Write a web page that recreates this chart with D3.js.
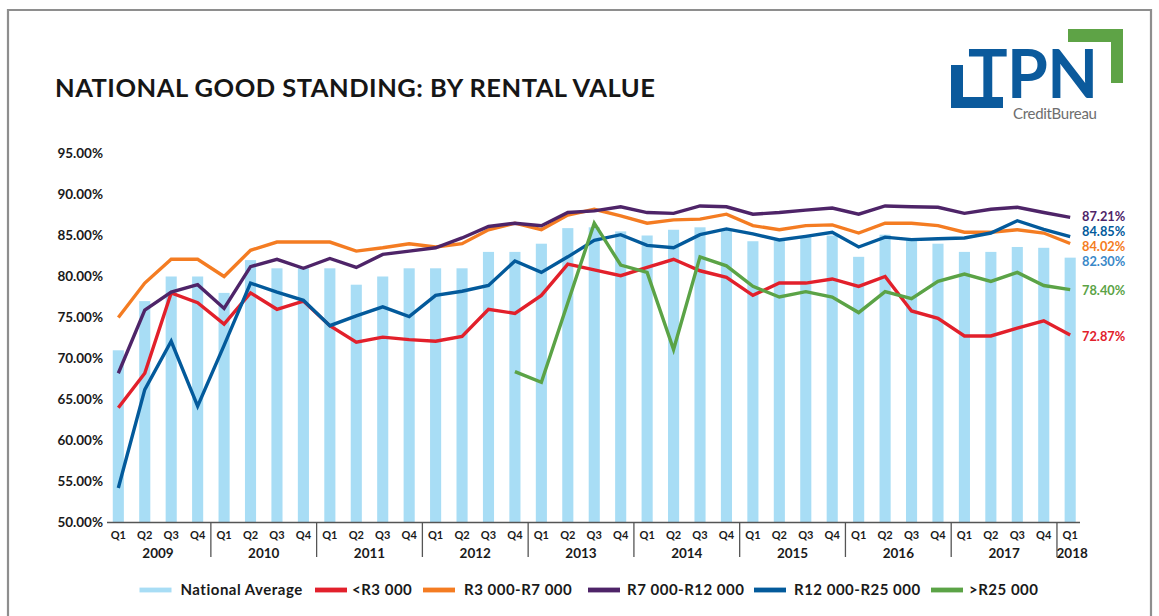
<!DOCTYPE html>
<html><head><meta charset="utf-8">
<script src="https://cdn.jsdelivr.net/npm/d3@7"></script>
<style>
html,body{margin:0;padding:0;background:#fff;}
svg{display:block;font-family:Lato,"Open Sans",sans-serif;}
</style></head>
<body>
<svg id="chart" width="1159" height="616"></svg>
<script>
// ---------- DATA ----------
const years = ["2009","2010","2011","2012","2013","2014","2015","2016","2017","2018"];
const quarters = ["Q1","Q2","Q3","Q4"];
const periods = [];
years.forEach(y => quarters.forEach(q => { if (!(y === "2018" && q !== "Q1")) periods.push(y + " " + q); }));

const nationalAverage = [71,77,80,80, 78,82,81,81, 81,79,80,81, 81,81,83,83, 84,85.9,86,85.5, 85,85.7,86,85.7, 84.3,84.4,84.9,85, 82.4,85.1,84.5,84, 83,83,83.6,83.5, 82.30];
const under3000 = [64,68.2,78,76.8, 74.2,78,76,77, 74,72,72.6,72.3, 72.1,72.7,76,75.5, 77.7,81.5,80.8,80.1, 81.1,82.1,80.7,79.9, 77.7,79.2,79.2,79.7, 78.8,80,75.8,74.9, 72.75,72.75,73.7,74.6, 72.87];
const r3000to7000 = [75,79.2,82.1,82.1, 80,83.2,84.2,84.2, 84.2,83.1,83.5,84, 83.6,84,85.7,86.5, 85.7,87.5,88.2,87.4, 86.5,86.9,87,87.6, 86.2,85.7,86.2,86.3, 85.3,86.5,86.5,86.2, 85.4,85.4,85.7,85.3, 84.02];
const r7000to12000 = [68.2,75.9,78.1,79, 76.1,81.2,82.1,81, 82.2,81.1,82.7,83.1, 83.5,84.7,86.1,86.5, 86.2,87.8,88,88.5, 87.8,87.7,88.6,88.5, 87.6,87.8,88.1,88.35, 87.6,88.6,88.5,88.44, 87.7,88.2,88.44,87.8, 87.21];
const r12000to25000 = [54.2,66.2,72.1,64.2, 71.6,79.2,78.1,77.1, 74,75.2,76.3,75.1, 77.7,78.2,78.9,81.9, 80.5,82.4,84.4,85.1, 83.8,83.5,85.1,85.8, 85.2,84.45,84.9,85.4, 83.6,84.8,84.5,84.6, 84.7,85.3,86.8,85.75, 84.85];
const over25000 = [null,null,null,null, null,null,null,null, null,null,null,null, null,null,null,68.4, 67.1,76.8,86.5,81.4, 80.5,71.1,82.4,81.3, 78.8,77.5,78.15,77.5, 75.6,78.15,77.3,79.4, 80.3,79.4,80.5,78.9, 78.40];

const seriesNames = ["National Average","<R3 000","R3 000-R7 000","R7 000-R12 000","R12 000-R25 000",">R25 000"];
const yTicks = [50,55,60,65,70,75,80,85,90,95];
const titleText = "NATIONAL GOOD STANDING: BY RENTAL VALUE";

// ---------- STYLE ----------
const colors = {
  bar: "#a8ddf5",
  under3000: "#e2202b",
  r3000to7000: "#f47c22",
  r7000to12000: "#4e2468",
  r12000to25000: "#035a9b",
  over25000: "#5ba346",
  avgLabel: "#3a88c8"
};

const svg = d3.select("#chart");
svg.append("rect").attr("x",0).attr("y",0).attr("width",1159).attr("height",616).attr("fill","#fff");
// frame
svg.append("path").attr("d","M8,640 V10 H1151 V640").attr("fill","none").attr("stroke","#8e8e8e").attr("stroke-width",2.2);

// title
svg.append("text").attr("x",55).attr("y",97).attr("fill","#161616")
  .style("font-size","25.5px").style("font-weight","700").style("letter-spacing","0.5px").text(titleText);

// logo
const logo = svg.append("g");
logo.append("rect").attr("x",951).attr("y",65).attr("width",12).attr("height",43).attr("fill","#0b5a9c");
logo.append("rect").attr("x",951).attr("y",97).attr("width",52).attr("height",11).attr("fill","#0b5a9c");
logo.append("rect").attr("x",1068).attr("y",29).attr("width",55).attr("height",13).attr("fill","#5ea346");
logo.append("rect").attr("x",1111).attr("y",29).attr("width",12).attr("height",54).attr("fill","#5ea346");
logo.append("text").attr("x",968).attr("y",98).attr("fill","#0b5a9c")
  .style("font-size","66px").style("font-weight","700").style("letter-spacing","-0.6px").text("TPN");
logo.append("text").attr("x",1013).attr("y",119).attr("fill","#6e6e6e")
  .style("font-size","15px").style("font-weight","400").style("letter-spacing","-0.3px").text("CreditBureau");

// scales
const x = d3.scaleBand().domain(periods).range([105.1, 1083.4]).paddingInner(0.58).paddingOuter(0.29);
const y = d3.scaleLinear().domain([50,95]).range([522.5,153.5]);
const cx = p => x(p) + x.bandwidth()/2;

// y axis labels
const yAxis = d3.axisLeft(y).tickValues(yTicks).tickFormat(d => d.toFixed(2) + "%").tickSize(0).tickPadding(0);
const gy = svg.append("g").attr("transform","translate(103,0)").call(yAxis);
gy.select(".domain").remove();
gy.selectAll("text").attr("fill","#1a1a1a").style("font-size","13.5px").style("font-weight","700").style("font-family","Lato,sans-serif");

// bars
svg.append("g").selectAll("rect").data(nationalAverage).join("rect")
  .attr("x",(d,i) => x(periods[i])).attr("width",x.bandwidth())
  .attr("y",d => y(d)).attr("height",d => y(50) - y(d)).attr("fill",colors.bar);

// x axis
const xAxis = d3.axisBottom(x).tickFormat(p => p.split(" ")[1]).tickSize(0).tickPadding(9);
const gx = svg.append("g").attr("transform","translate(0,522.5)").call(xAxis);
gx.select(".domain").remove();
gx.selectAll("text").attr("fill","#1a1a1a").style("font-size","11px").style("font-weight","700").style("font-family","Lato,sans-serif");
svg.append("line").attr("x1",107).attr("x2",1080).attr("y1",522.5).attr("y2",522.5).attr("stroke","#555").attr("stroke-width",1.6);

// year separators & labels
const step = x.step();
years.forEach((yr,k) => {
  const ps = periods.filter(p => p.startsWith(yr));
  const first = cx(ps[0]), last = cx(ps[ps.length-1]);
  if (k > 0) {
    svg.append("line").attr("x1",first - step/2).attr("x2",first - step/2).attr("y1",522.5).attr("y2",557)
      .attr("stroke","#555").attr("stroke-width",1.3);
  }
  svg.append("text").attr("x",(first+last)/2 + (ps.length===1?2:0)).attr("y",558).attr("text-anchor","middle")
    .attr("fill","#1a1a1a").style("font-size","13.5px").style("font-weight","700").text(yr);
});

// lines
const lineGen = d3.line().defined(d => d != null).x((d,i) => cx(periods[i])).y(d => y(d));
const lineSeries = [
  {vals: under3000, color: colors.under3000},
  {vals: r3000to7000, color: colors.r3000to7000},
  {vals: r7000to12000, color: colors.r7000to12000},
  {vals: r12000to25000, color: colors.r12000to25000},
  {vals: over25000, color: colors.over25000}
];
lineSeries.forEach(s => {
  svg.append("path").datum(s.vals).attr("d", lineGen).attr("fill","none")
    .attr("stroke", s.color).attr("stroke-width",3.4).attr("stroke-linejoin","miter").attr("stroke-miterlimit",4);
});

// end labels
const last = periods.length - 1;
const endLabels = [
  {v: r7000to12000[last], c: colors.r7000to12000, dy: -0.5},
  {v: r12000to25000[last], c: colors.r12000to25000, dy: -5},
  {v: r3000to7000[last], c: colors.r3000to7000, dy: 3.2},
  {v: nationalAverage[last], c: colors.avgLabel, dy: 3.7},
  {v: over25000[last], c: colors.over25000, dy: 0.8},
  {v: under3000[last], c: colors.under3000, dy: 1.7}
];
svg.append("g").selectAll("text").data(endLabels).join("text")
  .attr("x",1082).attr("y",d => y(d.v) + d.dy).attr("dy","0.36em")
  .attr("fill",d => d.c).style("font-size","12.8px").style("font-weight","700")
  .text(d => d.v.toFixed(2) + "%");

// legend
const legendColors = [colors.bar, colors.under3000, colors.r3000to7000, colors.r7000to12000, colors.r12000to25000, colors.over25000];
const legendX = [139.5, 315, 423, 588, 754, 931];
const legendGap = [41, 37, 41, 39, 40, 38];
const lg = svg.append("g");
seriesNames.forEach((n,i) => {
  lg.append("rect").attr("x",legendX[i]).attr("y",587.6).attr("width",32).attr("height",4.8).attr("fill",legendColors[i]);
  lg.append("text").attr("x",legendX[i] + legendGap[i]).attr("y",590).attr("dy","0.36em")
    .attr("fill","#1a1a1a").style("font-size","15px").style("font-weight","700").style("letter-spacing","0.5px").text(n);
});
</script>
</body></html>
